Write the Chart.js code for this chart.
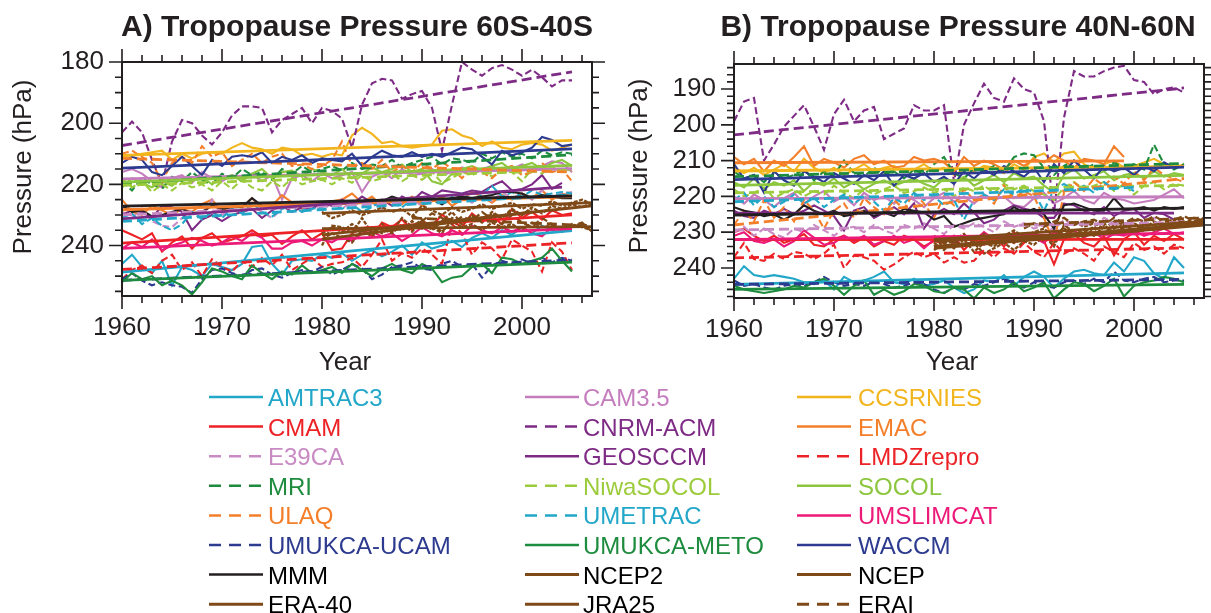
<!DOCTYPE html>
<html>
<head>
<meta charset="utf-8">
<title>Tropopause Pressure</title>
<script src="https://cdn.jsdelivr.net/npm/chart.js@4.4.1/dist/chart.umd.min.js"></script>
<style>
  html, body { margin: 0; padding: 0; background: #fff; }
  body { position: relative; width: 1211px; height: 613px; overflow: hidden;
         font-family: "Liberation Sans", Arial, Helvetica, sans-serif; color: #231f20; }
  canvas { position: absolute; top: 0; }
  #chartA { left: 0; }
  #chartB { left: 610px; }
  .ptitle { position: absolute; font-weight: bold; font-size: 30px; white-space: nowrap;
            transform: translate(-50%, -50%); line-height: 1; }
  .ytitle { position: absolute; font-size: 26px; white-space: nowrap; line-height: 1;
            transform: translate(-50%, -50%) rotate(-90deg); }
  .xtitle { position: absolute; font-size: 26px; white-space: nowrap; line-height: 1;
            transform: translate(-50%, -50%); }
  .legtext { position: absolute; font-size: 24px; white-space: nowrap; line-height: 1;
             transform: translateY(-50%); }
  #legendLines { position: absolute; left: 0; top: 0; }
</style>
</head>
<body>
<canvas id="chartA" width="610" height="380"></canvas>
<canvas id="chartB" width="601" height="380"></canvas>
<svg id="legendLines" width="1211" height="613"></svg>

<script>
// ---- series description --------------------------------------------------
const seriesNames = ['AMTRAC3','CAM3.5','CCSRNIES','CMAM','CNRM-ACM','EMAC','E39CA','GEOSCCM',
  'LMDZrepro','MRI','NiwaSOCOL','SOCOL','ULAQ','UMETRAC','UMSLIMCAT','UMUKCA-UCAM','UMUKCA-METO',
  'WACCM','MMM','NCEP2','NCEP','ERA-40','JRA25','ERAI'];
const seriesColors = ['#22a7c9','#c47dbd','#f2b51d','#ed2226','#7e2b86','#f47f2b','#c98bc4','#7e2b86',
  '#ed2226','#1e8c3e','#9ccb3b','#8cc63e','#f47f2b','#22a7c9','#ec1a78','#2c3a8f','#1e8c3e',
  '#2c3a8f','#231f20','#7f4a17','#7f4a17','#7f4a17','#7f4a17','#7f4a17'];
const seriesDashed = [false,false,false,false,true,false,true,false,true,true,true,false,true,true,
  false,true,false,false,false,false,false,false,false,true];
const startYear = [1960,1960,1960,1960,1960,1960,1960,1960,1960,1960,1960,1960,1960,1960,1960,1960,
  1960,1960,1960,1980,1980,1980,1980,1989];
const labelInBlack = [false,false,false,false,false,false,false,false,false,false,false,false,false,
  false,false,false,false,false,true,true,true,true,true,true];

const xTicks = [1960, 1970, 1980, 1990, 2000];
const yTicksA = [180, 200, 220, 240];
const yTicksB = [190, 200, 210, 220, 230, 240];

// ---- A) 60S-40S annual means (hPa) ---------------------------------------
const amtrac3A = [246,243,247,249,245,253,247,248,250,246, 247,248,246,240.5,240,246,249.5,245,244.5,245, 243,244,242.5,245,243,241.5,243.5,242,240,243, 239,241,240,238.5,240.5,237.5,236,237.5,235,236.5, 234,236,233.5,235,234.5,235];
const cam35A = [216,215,216.5,219,221,218,217,219.5,216,218, 219,217,218,216.5,219,217,225,218,217,219, 216.5,218,217,216,222.5,217.5,216,218,215,217, 216.5,215,217,216,214.5,216,215,214,216,215, 213.5,215,214,212.5,213,216];
const ccsrniesA = [211,210.5,210,209.5,209,212,210,211.5,210,209.5, 210,208,206.5,208,208.5,210,208,208.5,210.5,210, 211,210,210.5,204,201.5,203.5,206.5,206,207.5,208, 207.5,207,202.5,202,204,205,207.5,206,208,208.5, 207,206.5,207,209,208,207];
const cmamA = [235,236.5,238,236,242,239,237,241,237.5,236, 239,238,237,235,237,236.5,239.5,237,235,238, 236,241.5,241,236,234.5,237,232.5,234,231.5,235, 232,233.5,230,232,234,229.5,232,230.5,233,228, 231,229,231.5,228.5,230,229.5];
const cnrmA = [203,199.5,203,212,220,206,199,200,204,207, 203,197.5,194.5,194.5,195,203,199,197,195,200, 195,196,198.5,208,194,187,185.5,186,192,190.5, 189.5,195,209,194,180,182.5,184.5,182,181,182.5, 184.5,182.5,185,188,186,186];
const emacA = [225,229,230,227,228.5,230,228,229,226.5,225, 229,227,227.5,224.5,228,227,223.5,226,228,226, 227,225.5,225,223,226,224,227,225,226.5,224, 227,225.5,224,227,225,222.5,224,226,223.5,225, 223,224.5,222,225,223,224];
const e39caA = [229,231,228,232,233.5,234,231,229,231,225, 230,228,229.5,227,229,231,228,226.5,229,227, 228.5,226,228,225.5,227,226,228,224.5,226.5,225, 227,224,226,225,223.5,226,224,225.5,222.5,224.5, 223,225,222,224,223,222.5];
const geosA = [230,228.5,229,231,227,227.5,229,235,231.5,230, 232,230,229,228,231,228.5,227,229,227.5,228, 226,227,225,226.5,224,226,225,227,224,225.5, 222.5,224,222,222.5,223,222,222.5,220.5,219,222, 221.5,220,217,221.5,219.5,null];
const lmdzA = [251,248,246.5,249,245,243,248,245.5,250,244.5, 247,248.5,245,247,244,246.5,243,248,246,244, 247,246,245.5,244,247,243,238,245,242.5,244, 241,243,246,233,236,243,239,241,244.5,238, 240,242,248.5,239,242,248];
const mriA = [219,222,218,220,221.5,217.5,219,216,218.5,220, 216.5,218,215,217,216,218.5,215,216.5,214,216, 215,214,215.5,213,215,213.5,214,212,214.5,213, 212,211,213.5,211.5,212,213,210,211.5,209.5,211, 210,211.5,209,210.5,209.5,210];
const niwaA = [218,221,219,222.5,220,222,219.5,221,220,222, 219,221.5,218.5,221,222,219,221,218,220,219, 218.5,220,218,219.5,217,219,218,216.5,219,217, 218.5,216,219.5,218,216,217,215,217.5,215.5,216, 219,215,216.5,214,216,215];
const socolA = [221,218,219.5,221,219,220.5,218,219,217.5,220, 218,217,219,216.5,215,218,216,215.5,217.5,215, 216,217,215,218,216.5,214.5,216,215,213.5,216, 215,219,220,216.5,215,214,215.5,214,213,215.5, 214,213,215,213,212,214];
const ulaqA = [210,209,211,213,219,213,211,213,207.5,211, 209.5,214,212,210,213,211,210,214,213.5,215, 214,212,206,214,213,215,212,216,214,216, 213,215,212.5,215,218,214,216,218,215,214, 217,216,213,216,215,219];
const umetracA = [231,229.5,233,231,233.5,235,233,229,231.5,229, 231,228,229.5,226,229,230.5,228,227,229,228, 227.5,226,228,226.5,229,227.5,225,226,227.5,225, 226,224.5,226.5,224,223,225,223.5,220.5,224,222.5, 224,222,223.5,223,222.5,223];
const umslimA = [241,239,240.5,238,241.5,240,239,237.5,238.5,240, 239,237,238.5,236,237.5,241,241,239,238.5,240, 238,239,237,238.5,236,235.5,237,236,238.5,236.5, 234,236,237,235,236.5,233.5,235,236,234,235.5, 234,236,237,234,235,234.5];
const ucamA = [251,249,251.5,253,252,253,253.5,255.5,251,248, 247.5,249,250,248,247.5,249.5,250.5,249,248,248.5, 247,249.5,248,246,247.5,251,249.5,247,246.5,245.5, 247.5,248,246,245,247,246,250.5,246.5,245,246, 244.5,246,244,245.5,244,245];
const metoA = [252,249,251,250,253,251.5,253,256,252,247.5, 248.5,250,251,246.5,249,251,248.5,249.5,246.5,249, 248,247,249,246,248,250,247.5,246,248,249, 246,247.5,252,250.5,250,247,246,249,244,244.5, 246,245,244,241,245,248.5];
const waccmA = [213,211,212,216,217,214,211,214,217,212, 214,211,210.5,211,209.5,213,211,212,210.5,213, 211.5,212,212.5,210,214,211,209,210.5,211,209.5, 211,210,211,209.5,208,208.5,211,213.5,209,210.5, 209.5,208,204.5,205.5,207.5,207];
const mmmA = [227,229,228.5,230.5,230,229,228,229.5,229,227, 228,227.5,227.5,224.5,227,227.5,227,226.5,226,226.5, 226.5,226,226.5,226,225.5,225,225.5,224,225,225, 224.5,225,226.5,224.5,224,224.5,224,223.5,222.5,222.5, 223,224.5,223.5,224,224.5,224.5];
const ncep2A = [229,231,230,228.5,230,229,227.5,229,228,230.5, 227,228.5,230,227.5,229,228,226.5,228,227,226, 228,226.5,227,225.5,227,226,225,226.5];
const ncepA = [240,233.5,234,236,231,236,233,235.5,231,234, 231.5,235,232,229,233,230.5,232,229,231,228, 230,227.5,229.5,227,228,226.5,227.5,226];
const era40A = [238,236,237.5,239,235,237,234.5,236,233,235.5, 232,234,236,231,233,230,232.5,229.5,231,228.5, 230,228];
const jra25A = [236,234,235.5,233,235,234,236,233.5,235,232, 234.5,233,235.5,232,234,233,235,232.5,234,233, 235,232.5,234,233.5,235.5,233,234,235];
const eraiA = [230,232,229.5,231,233,230.5,232,229,231.5,233, 230,232.5,234,231,233,235,233.5,232.5,235.5];

// linear trends A: value at first and last year of each series
const trendStartA = [248.7,218.2,210.5,239.2,207.3,228.3,230,231.3,247.8,219.8,220.3,219.3,211.5,232.1,240.9,251.4,251.4,214.7,227.1,229.5,236.5,238,234.5,231];
const trendEndA   = [235.1,214.9,205.6,230,183.2,224,223.6,220.9,239.1,210.3,215.4,213.8,216,223.4,234.5,244.7,245.4,208.4,223.8,226,227,229,233.8,233.5];

// ---- B) 40N-60N annual means (hPa) ---------------------------------------
const amtrac3B = [243,239.5,242,242.5,242,242.5,243,244,244.5,243.5, 246,242.5,244,243.5,242.5,241,244,244.5,243,245, 244.5,243.5,245.5,247,246,243.5,244,242,245,242.5, 241,242.5,245.5,243,241,240.5,241.5,242,238.5,241, 237,238,241.5,243,237,240];
const cam35B = [220,222,219.5,221,223,220.5,219,222,220,218.5, 221.5,220,222.5,219,221,220,222,219.5,221,223, 220.5,219,221.5,220,222,219.5,221,220,222.5,223, 220.5,219,222,220.5,218.5,221,222,219,220.5,221, 222,221.5,221,219.5,218,220.5];
const ccsrniesB = [212,213.5,212,214,212.5,211,213,209.5,212,213.5, 212,214,212.5,211,213,212,211.5,213,212.5,211, 213,212,214,212.5,213,211.5,212,213.5,211,212.5, 209,208,210.5,208,207.5,211,212.5,211,210,212, 211.5,210.5,209.5,211,212,211];
const cmamB = [230,229,231,232.5,231,233,232,230.5,233.5,234, 232,231,233,231.5,234,232.5,233.5,231,232,234, 232.5,233,231,235,232,233.5,231.5,234,230,233, 231,232.5,239,232,230.5,233,234,231,236.5,232, 230,233.5,231,232.5,230.5,232];
const cnrmB = [199,193.5,192.5,210,205.5,200.5,197.5,194.5,200.5,207, 197,193,199,196,195,204,202.5,201,194.5,196, 196,194.5,216,200,194,188.5,192.5,193.5,187,190, 191,199,225,198,185,186.5,186.5,185,184,183.5, 187.5,188,191.5,190,189.5,191];
const emacB = [209,211,209.5,213,210,211.5,209,206,211.5,209.5, 210.5,212,209.5,208.5,211,210,212,211.5,209,210, 209.5,210.5,213,209,211.5,210,211,212.5,210,211.5, 209.5,210.5,208.5,210,212,209.5,210,211,206,209, null,null,null,null,null,null];
const e39caB = [230,228.5,231,229,230.5,231.5,229,230,228,229.5, 231,229,228.5,230,228,229.5,230.5,228,229,227.5, 229,230.5,228,229,227.5,228.5,230,227,228.5,227.5, 229,228,229.5,226.5,228,227,228.5,226,227.5,228, 226.5,227.5,226,228,227,226.5];
const geosB = [224,225.5,226,224,225,223.5,225,224,222.5,224, 225.5,229.5,224,223,226,224.5,223,225,222,229, 225,223.5,225,222,224.5,227.5,226.5,224,222.5,223.5, 224,226,226,222,222.5,224,225,223,225.5,224, 223.5,226,224.5,225,226.5,null];
const lmdzB = [237,233,237.5,238,236,237.5,235.5,236,237.5,236, 233.5,240,236.5,237,238,240.5,239,237,235.5,237, 236,238.5,237,238.5,238,235,237,234.5,236,233, 235.5,237,233,236,234.5,236,238,234,235.5,237, 233,235,234,236,233.5,234.5];
const mriB = [213,215,214,216,213.5,215,214,212.5,215.5,213, 214,210,213.5,214.5,212,214,213,215,212.5,214, 211,209,213.5,215,212,213,211.5,213,209,208, 208.5,212,214,211.5,210,212.5,211,213,210.5,212, 211,212.5,205.5,211,212.5,211];
const niwaB = [218,220,219,217.5,220.5,219,218,220,218.5,219.5, 217,219,220.5,218,219.5,218,217,219,218.5,217.5, 219,218,220,217.5,218.5,217,219,216.5,218,217, 218.5,219.5,221,217.5,216,218,217,216,218.5,216.5, 219.5,217,216,218,216.5,217];
const socolB = [216,217.5,215,218,216,217,215.5,218.5,216,217, 215,217.5,216,218,216.5,215.5,217,216,215,216.5, 217.5,215,216,214.5,217,215.5,214,216,213.5,215, 214.5,217,219,214,212.5,215,214,213,215.5,214, 213.5,215,213,214.5,213.5,214];
const ulaqB = [228,224,227,221,226,223,227,221,224,229, 224,222,226,220.5,223,225,221,223.5,219,222, 226,220,222.5,218,221,219.5,222,217,220.5,218.5, 220,226,233,219,216,218.5,215,217,214.5,216.5, 213,215.5,212,214,215,216];
const umetracB = [221,219,222.5,220,223,221.5,219.5,222,220.5,223, 221,219.5,222,220,221.5,224,220.5,222,219,221, 220,222.5,221,226.5,221,219.5,221,218,219.5,217.5, 219,224,218,216.5,218.5,217,219,216,218,217, 218.5,null,null,null,null,null];
const umslimB = [231,230,232.5,233,232,234,232.5,229.5,231.5,233.5, 233,231,232.5,231,233.5,232.5,231,233,232,234.5, 232,231,233,231.5,232.5,230,232,231.5,233,230.5, 231.5,233,230,231,229.5,231.5,230,232,230.5,231, 229.5,231,230,229,230.5,230];
const ucamB = [243.5,245,244.5,245.5,246,245,244.5,245,244,242.5, 244,245,244.5,245,244,244.5,245.5,245,244,244.5, 246,247,245.5,246,244.5,245,244,243,244.5,245.5, 244,245,245.5,244,243.5,244.5,243,244,241,243.5, 244,243,242.5,244,243.5,243.5];
const metoB = [245,246,246.5,247,246.5,246,245,245.5,244,243, 245,247.5,245,243.5,247.5,246,247.5,246.5,244.5,245, 246.5,247,245.5,246,248.5,245.5,247,246,244,246.5, 245.5,244,248.5,246,244,244.5,246.5,245,243,248, 245,244,243.5,242.5,243,244];
const waccmB = [211,215,214,219,213,215.5,217,213,214.5,216, 213.5,215,216.5,214,215.5,213,217,214,215,213.5, 216,214.5,216.5,213,215,212.5,214,211.5,213,214.5, 212,216,211,213.5,210,212.5,215,211.5,213,212, 214,211.5,213,210.5,212,211.5];
const mmmB = [223,224,224.5,225.5,225,226.5,225,222.5,224,225, 224,225.5,225,224,225.5,224.5,225.5,223.5,224,224.5, 226.5,225.5,228.5,227.5,226.5,226,225.5,225,223,224.5, 223.5,225,229,222.5,222,223,224,224,220.5,223.5, 223.5,223,224,223,223.5,223];
const ncep2B = [234,232.5,233,231,232.5,230.5,232,231,229.5,231.5, 230,229,231.5,228.5,227,228.5,227.5,229,227,228, 227.5,229,227,228,226.5,227.5,226,227];
const ncepB = [233,235,232.5,234,233,236,234.5,233,235,232.5, 233.5,231,234,228,230,231.5,229,230.5,228,229.5, 230,228.5,229.5,227.5,228,227,228,226];
const era40B = [231,233,232,230.5,233.5,232,231,233,230.5,232, 230,231.5,233,229,230.5,229.5,231,228.5,230,229, 230.5,228.5];
const jra25B = [235,233,234.5,232,235.5,233,234,231.5,233,232, 230.5,232.5,231,229.5,231,230,228.5,230.5,229,228, 229.5,227.5,229,228,227,228.5,227.5,226];
const eraiB = [229,227.5,228.5,227,226,228,227,226.5,228,226, 227.5,226,227,225.5,227,226.5,225.5,227,226];

const trendStartB = [244.6,220.6,212.9,232.1,202.8,210.6,229.4,224.7,237.2,214.5,219,216.9,228,221.5,232.1,244.6,246,215.3,225.2,232,234.5,232.5,234,227.8];
const trendEndB   = [241.4,220.1,211.6,232,189.7,210.1,227.3,224.7,234.4,210.8,216.9,214.1,215,217.5,230.3,243.2,244.6,211.8,223.3,227,228,229.5,227.5,226];

const valuesA = [amtrac3A,cam35A,ccsrniesA,cmamA,cnrmA,emacA,e39caA,geosA,lmdzA,mriA,niwaA,socolA,
  ulaqA,umetracA,umslimA,ucamA,metoA,waccmA,mmmA,ncep2A,ncepA,era40A,jra25A,eraiA];
const valuesB = [amtrac3B,cam35B,ccsrniesB,cmamB,cnrmB,emacB,e39caB,geosB,lmdzB,mriB,niwaB,socolB,
  ulaqB,umetracB,umslimB,ucamB,metoB,waccmB,mmmB,ncep2B,ncepB,era40B,jra25B,eraiB];

// ---- drawing -------------------------------------------------------------
const FONT = '"Liberation Sans", Arial, Helvetica, sans-serif';
const INK = '#231f20';
Chart.defaults.font.family = FONT;
Chart.defaults.color = INK;

function buildDatasets(values, tStart, tEnd) {
  const sets = [];
  values.forEach((vals, i) => {
    const pts = [];
    vals.forEach((v, k) => { if (v !== null) pts.push({ x: startYear[i] + k, y: v }); });
    const reanalysis = i >= 19;
    const dash = seriesDashed[i];
    sets.push({
      label: seriesNames[i], data: pts, borderColor: seriesColors[i],
      borderWidth: reanalysis ? 2.3 : 2.1,
      borderDash: dash ? [7, 3.5] : (reanalysis ? [4, 1.5] : []),
      pointRadius: 0, tension: 0, fill: false, order: -i
    });
    const x0 = pts[0].x, x1 = pts[pts.length - 1].x;
    sets.push({
      label: seriesNames[i] + ' trend',
      data: [{ x: x0, y: tStart[i] }, { x: x1, y: tEnd[i] }],
      borderColor: seriesColors[i], borderWidth: 2.8,
      borderDash: dash ? [10, 5] : [],
      pointRadius: 0, tension: 0, fill: false, order: -100 - i
    });
  });
  return sets;
}

// frame with outward tick marks on all four sides
const frameTicks = {
  id: 'frameTicks',
  afterDraw(chart, args, opts) {
    const { ctx, chartArea: a } = chart;
    const xs = chart.scales.x, ys = chart.scales.y;
    ctx.save();
    ctx.strokeStyle = INK;
    ctx.lineWidth = 1.6;
    ctx.beginPath();
    for (let yr = 1960; yr <= xs.max; yr += 2) {
      const px = xs.getPixelForValue(yr);
      const len = yr % 10 === 0 ? 13 : 7;
      ctx.moveTo(px, a.bottom); ctx.lineTo(px, a.bottom + len);
      ctx.moveTo(px, a.top); ctx.lineTo(px, a.top - len);
    }
    const n0 = Math.ceil(ys.min / opts.yMinor), n1 = Math.floor(ys.max / opts.yMinor);
    for (let n = n0; n <= n1; n++) {
      const v = n * opts.yMinor;
      const py = ys.getPixelForValue(v);
      const len = v % opts.yMajor === 0 ? 13 : 7;
      ctx.moveTo(a.left, py); ctx.lineTo(a.left - len, py);
      ctx.moveTo(a.right, py); ctx.lineTo(a.right + len, py);
    }
    ctx.stroke();
    ctx.lineWidth = 2;
    ctx.strokeRect(a.left, a.top, a.right - a.left, a.bottom - a.top);
    ctx.restore();
  }
};

function makeChart(id, values, tStart, tEnd, cfg) {
  return new Chart(document.getElementById(id), {
    type: 'line',
    data: { datasets: buildDatasets(values, tStart, tEnd) },
    options: {
      responsive: false, animation: false, devicePixelRatio: 1,
      layout: { padding: { left: 0, top: cfg.top, right: cfg.right, bottom: 0 } },
      plugins: {
        legend: { display: false }, tooltip: { enabled: false }, title: { display: false },
        frameTicks: { yMinor: cfg.yMinor, yMajor: cfg.yMajor }
      },
      scales: {
        x: {
          type: 'linear', min: 1960, max: 2007,
          afterBuildTicks: s => { s.ticks = xTicks.map(v => ({ value: v })); },
          afterFit: s => { s.height = cfg.xHeight; },
          ticks: { font: { size: 26 }, color: INK, padding: 16, maxRotation: 0, autoSkip: false,
                   callback: v => String(v) },
          grid: { display: false, drawTicks: false }, border: { display: false }
        },
        y: {
          type: 'linear', reverse: true, min: cfg.yMin, max: cfg.yMax,
          afterBuildTicks: s => { s.ticks = cfg.yTicks.map(v => ({ value: v })); },
          afterFit: s => { s.width = cfg.yWidth; },
          ticks: { font: { size: 26 }, color: INK, padding: 18, callback: v => String(v) },
          grid: { display: false, drawTicks: false }, border: { display: false }
        }
      }
    },
    plugins: [frameTicks]
  });
}

makeChart('chartA', valuesA, trendStartA, trendEndA,
  { top: 62, right: 18, xHeight: 84, yWidth: 122, yMin: 180, yMax: 256.5,
    yTicks: yTicksA, yMinor: 5, yMajor: 20 });
makeChart('chartB', valuesB, trendStartB, trendEndB,
  { top: 64, right: 7, xHeight: 82, yWidth: 124, yMin: 183, yMax: 248.4,
    yTicks: yTicksB, yMinor: 2, yMajor: 10 });

// ---- titles --------------------------------------------------------------
function addText(cls, text, x, y) {
  const d = document.createElement('div');
  d.className = cls; d.textContent = text;
  d.style.left = x + 'px'; d.style.top = y + 'px';
  document.body.appendChild(d);
  return d;
}
addText('ptitle', 'A) Tropopause Pressure 60S-40S', 357, 26);
addText('ptitle', 'B) Tropopause Pressure 40N-60N', 958, 26);
addText('ytitle', 'Pressure (hPa)', 22, 167);
addText('ytitle', 'Pressure (hPa)', 638, 166);
addText('xtitle', 'Year', 345, 361);
addText('xtitle', 'Year', 952, 361);

// ---- legend --------------------------------------------------------------
const legendLineX = [209, 525, 797];
const legendTextX = [268, 583, 858];
const legendTop = 397, legendGap = 29.6, legendLineLen = 54;
const svg = document.getElementById('legendLines');
const NS = 'http://www.w3.org/2000/svg';
seriesNames.forEach((name, i) => {
  const row = Math.floor(i / 3), col = i % 3;
  const cy = legendTop + row * legendGap;
  const ln = document.createElementNS(NS, 'line');
  ln.setAttribute('x1', legendLineX[col]);
  ln.setAttribute('x2', legendLineX[col] + legendLineLen);
  ln.setAttribute('y1', cy); ln.setAttribute('y2', cy);
  ln.setAttribute('stroke', seriesColors[i]);
  ln.setAttribute('stroke-width', i >= 19 ? 3 : 2.5);
  if (seriesDashed[i]) ln.setAttribute('stroke-dasharray', '12 8');
  svg.appendChild(ln);
  const t = addText('legtext', name, legendTextX[col], cy + 1);
  t.style.color = labelInBlack[i] ? '#000' : seriesColors[i];
});
</script>
</body>
</html>
